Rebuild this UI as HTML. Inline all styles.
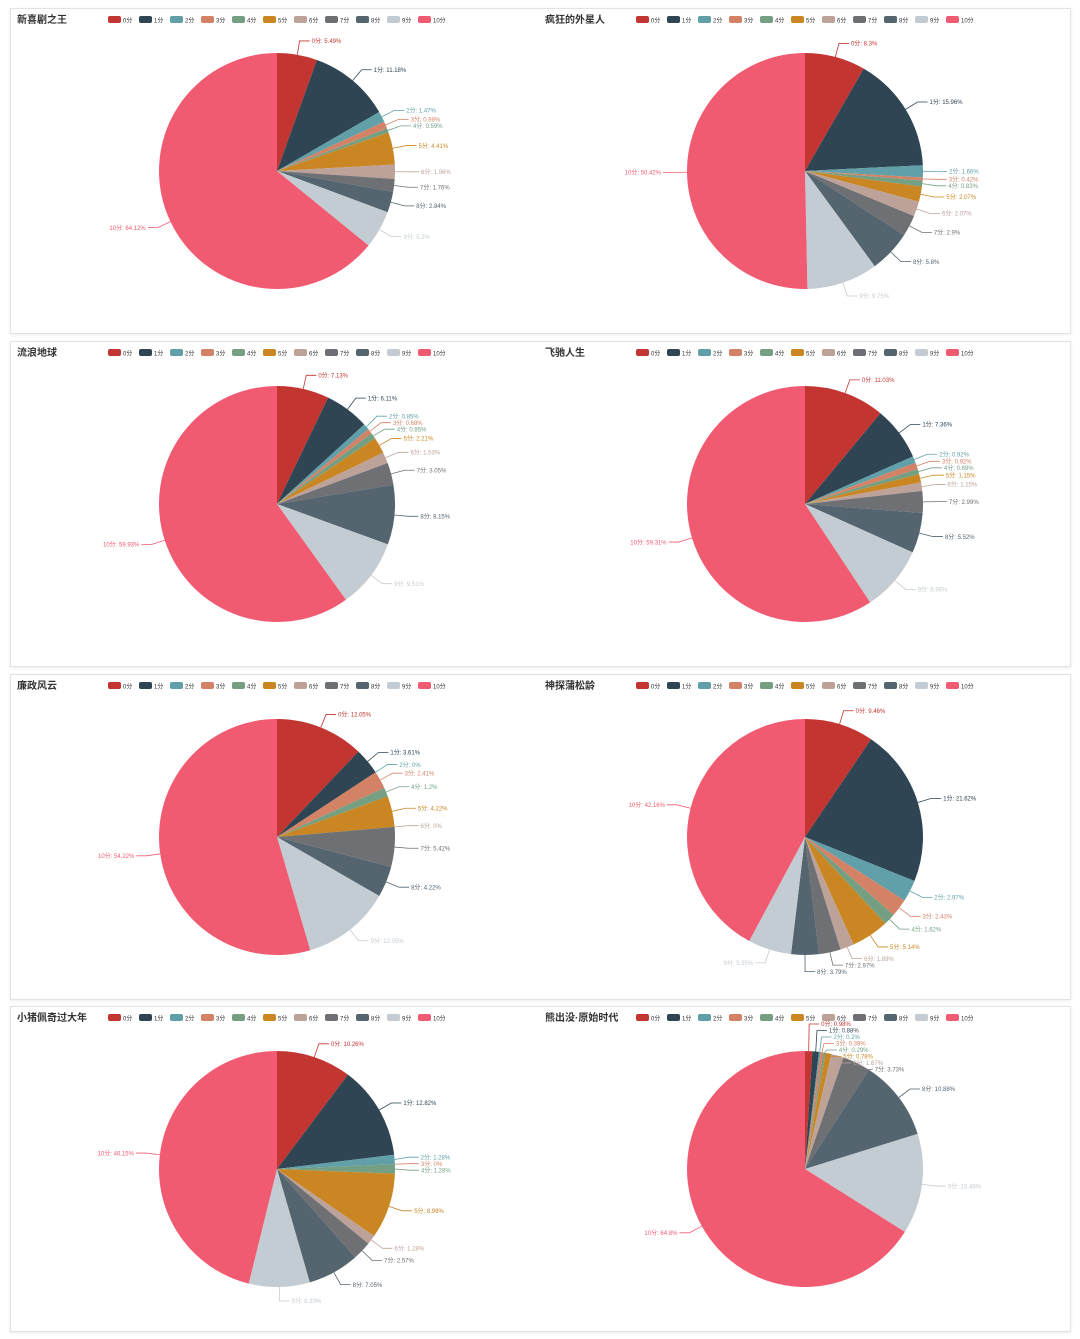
<!DOCTYPE html>
<html><head><meta charset="utf-8">
<style>
body{margin:0;background:#fff;width:1080px;height:1339px;overflow:hidden;font-family:"Liberation Sans","Noto Sans CJK SC",sans-serif;}
.panel{position:absolute;border:1px solid #e3e3e3;box-shadow:0 1px 3px rgba(0,0,0,0.08);background:#fff;}
svg{position:absolute;top:0;}
</style></head><body>
<div id="root"></div>
<script>
const titles=["新喜剧之王","疯狂的外星人","流浪地球","飞驰人生","廉政风云","神探蒲松龄","小猪佩奇过大年","熊出没·原始时代"];
const categories=["0分","1分","2分","3分","4分","5分","6分","7分","8分","9分","10分"];
const s0=[5.49,11.18,1.47,0.98,0.59,4.41,1.96,1.76,2.84,5.2,64.12];
const s1=[8.3,15.96,1.66,0.42,0.83,2.07,2.07,2.9,5.8,9.75,50.42];
const s2=[7.13,6.11,0.85,0.68,0.85,2.21,1.53,3.05,8.15,9.51,59.93];
const s3=[11.03,7.36,0.92,0.92,0.69,1.15,1.15,2.99,5.52,8.96,59.31];
const s4=[12.05,3.61,0,2.41,1.2,4.22,0.0,5.42,4.22,12.05,54.22];
const s5=[9.46,21.62,2.97,2.43,1.62,5.14,1.89,2.97,3.79,5.95,42.16];
const s6=[10.26,12.82,1.28,0,1.28,8.98,1.28,2.57,7.05,8.33,46.15];
const s7=[0.98,0.88,0.2,0.39,0.29,0.78,1.67,3.73,10.88,13.49,64.8];
const series=[s0,s1,s2,s3,s4,s5,s6,s7];
const colors=["#c23531","#2f4554","#61a0a8","#d48265","#749f83","#ca8622","#bda29a","#6e7074","#546570","#c4ccd3","#f05b72"];
const NS="http://www.w3.org/2000/svg";
const root=document.getElementById('root');
const PY=[8,341,674,1006],PH=324;
function mk(tag,attrs,parent){const e=document.createElementNS(NS,tag);for(const k in attrs)e.setAttribute(k,attrs[k]);parent.appendChild(e);return e;}
const panels=[];
PY.forEach((y,r)=>{
  const panel=document.createElement('div');
  panel.className='panel';
  
  
  panel.style.left='10px';panel.style.top=y+'px';
  panel.style.width='1059px';panel.style.height=PH+'px';
  root.appendChild(panel);panels.push(panel);
});
series.forEach((vals,idx)=>{
  const col=idx%2,row=Math.floor(idx/2);
  const svg=mk('svg',{width:530,height:PH},panels[row]);
  svg.style.left=(col*528)+'px';
  
  
  const t=mk('text',{x:6,y:14,'font-size':10,'font-weight':'bold',fill:'#333'},svg);
  t.textContent=titles[idx];
  
  
  categories.forEach((c,i)=>{
    const g=mk('g',{},svg);
    
    
    const lx=97+i*31;
    mk('rect',{x:lx,y:7,width:13,height:7,rx:2,fill:colors[i]},g);
    const tt=mk('text',{x:lx+15,y:13.5,'font-size':6,fill:'#333'},g);tt.textContent=c;
  });
  const cx=266,cy=162,r=118;
  const total=vals.reduce((a,b)=>a+b,0);
  let ang=0;const labels=[];
  vals.forEach((v,i)=>{
    const a0=ang,a1=ang+v/total*2*Math.PI;ang=a1;
    const m=(a0+a1)/2;
    if(v>0){
      const p=(a)=>[cx+r*Math.sin(a),cy-r*Math.cos(a)];
      const [x0,y0]=p(a0),[x1,y1]=p(a1);
      const large=(a1-a0)>Math.PI?1:0;
      const path=mk('path',{d:`M${cx},${cy}L${x0},${y0}A${r},${r} 0 ${large} 1 ${x1},${y1}Z`,fill:colors[i]},svg);
      
      
    }
    labels.push({i,v,m,ax:cx+r*Math.sin(m),ay:cy-r*Math.cos(m),ex:cx+(r+14)*Math.sin(m),ey:cy-(r+14)*Math.cos(m),right:Math.sin(m)>=-1e-9});
  });
  const GAP=6.5,TOP=17;
  [true,false].forEach(side=>{
    const L=labels.filter(l=>l.right===side).sort((a,b)=>a.ey-b.ey||a.i-b.i);
    let clusters=L.map(l=>({items:[l],orig:[l.ey]}));
    const place=c=>{const mean=c.orig.reduce((a,b)=>a+b,0)/c.orig.length;const n=c.items.length;c.top=mean-(n-1)*GAP/2;};
    clusters.forEach(place);
    let merged=true;
    while(merged){
      merged=false;
      for(let k=1;k<clusters.length;k++){
        const a=clusters[k-1],b=clusters[k];
        if(a.top+a.items.length*GAP>b.top){
          a.items=a.items.concat(b.items);a.orig=a.orig.concat(b.orig);place(a);
          clusters.splice(k,1);merged=true;break;
        }
      }
    }
    clusters.forEach(c=>c.items.forEach((l,k)=>l.ey=c.top+k*GAP));
    for(let k=0;k<L.length;k++){
      const minY=k===0?TOP:L[k-1].ey+GAP;
      if(L[k].ey<minY)L[k].ey=minY;
    }
    L.forEach(l=>{
      const dir=side?1:-1;
      const ex=l.ex, tx=ex+dir*10;
      const g=mk('g',{},svg);
      
      
      mk('polyline',{points:`${l.ax},${l.ay} ${ex},${l.ey} ${tx},${l.ey}`,fill:'none',stroke:colors[l.i],'stroke-width':0.8},g);
      const tt=mk('text',{x:tx+dir*2,y:l.ey+2.2,'font-size':6,fill:colors[l.i],'text-anchor':side?'start':'end'},g);
      tt.textContent=categories[l.i]+': '+l.v+'%';
    });
  });
});
</script>
</body></html>
